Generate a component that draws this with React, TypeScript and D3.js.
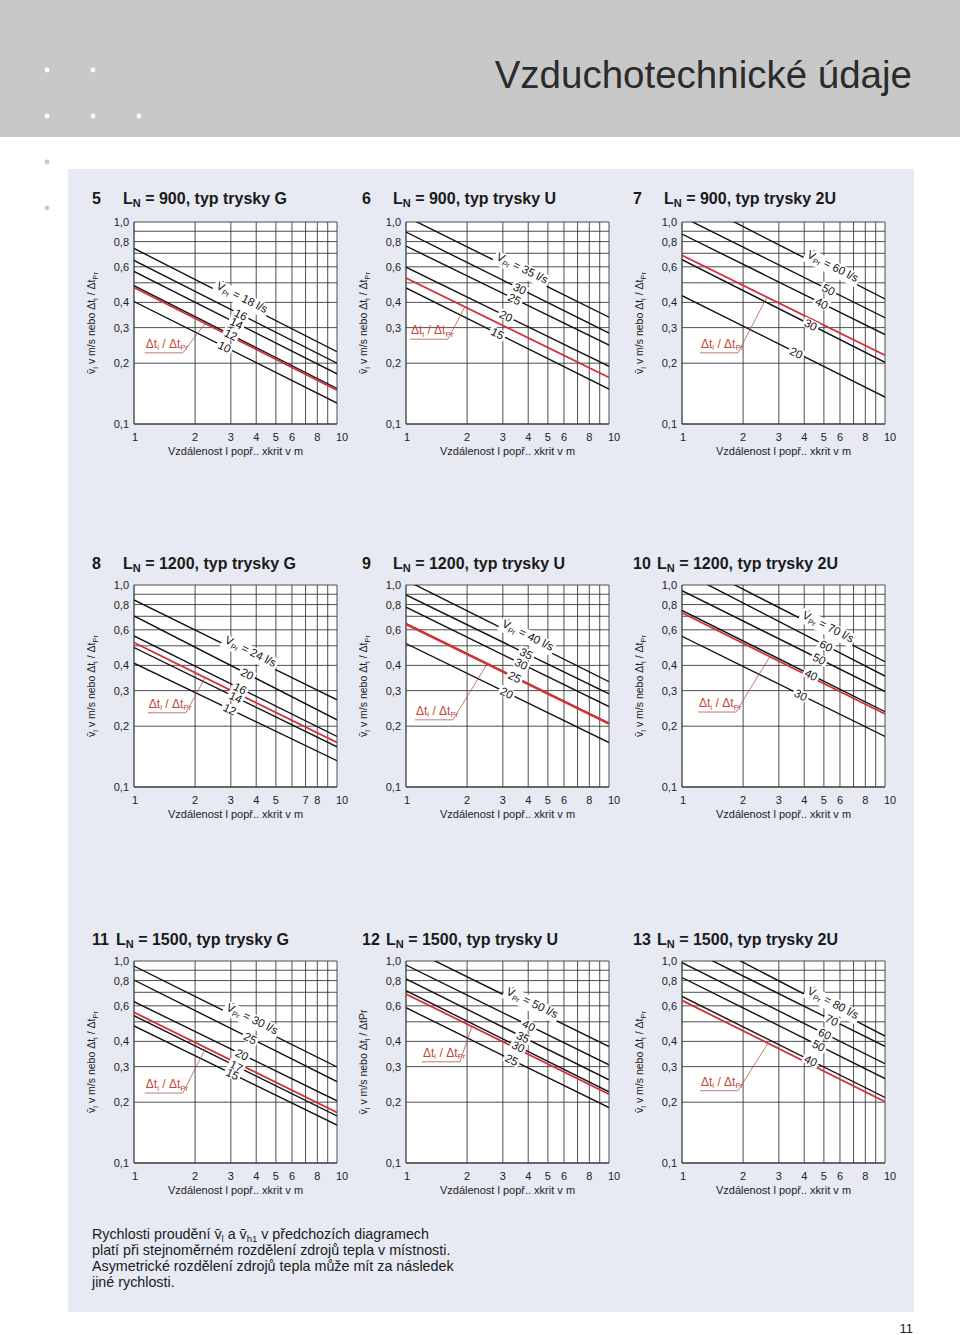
import React from "react";
import * as d3 from "d3";

// --- chart data -------------------------------------------------------------
const chartNumbers = ["5", "6", "7", "8", "9", "10", "11", "12", "13"];
const nozzleLength = [900, 900, 900, 1200, 1200, 1200, 1500, 1500, 1500];
const nozzleType = ["G", "U", "2U", "G", "U", "2U", "G", "U", "2U"];

// air flow V̇Pr in l/s, one black line each (top line first)
const flowRates = [
  [18, 16, 14, 12, 10],
  [35, 30, 25, 20, 15],
  [60, 50, 40, 30, 20],
  [24, 20, 16, 14, 12],
  [40, 35, 30, 25, 20],
  [70, 60, 50, 40, 30],
  [30, 25, 20, 17, 15],
  [50, 40, 35, 30, 25],
  [80, 70, 60, 50, 40],
];
// velocity v̄l in m/s read at 1 m (lines above 1,0 extended) and at 10 m
const velocityAt1 = [
  [0.74, 0.645, 0.569, 0.484, 0.404],
  [1.064, 0.892, 0.76, 0.598, 0.472],
  [1.355, 1.062, 0.872, 0.651, 0.432],
  [0.843, 0.703, 0.56, 0.49, 0.41],
  [1.055, 0.893, 0.776, 0.643, 0.513],
  [1.361, 1.167, 0.938, 0.748, 0.557],
  [0.944, 0.805, 0.629, 0.536, 0.477],
  [1.177, 0.955, 0.815, 0.713, 0.587],
  [1.415, 1.19, 0.981, 0.828, 0.668],
];
const velocityAt10 = [
  [0.228, 0.2, 0.177, 0.15, 0.127],
  [0.338, 0.282, 0.246, 0.193, 0.149],
  [0.416, 0.336, 0.277, 0.202, 0.136],
  [0.27, 0.215, 0.178, 0.158, 0.135],
  [0.332, 0.289, 0.25, 0.207, 0.166],
  [0.417, 0.354, 0.297, 0.236, 0.178],
  [0.299, 0.253, 0.203, 0.171, 0.154],
  [0.377, 0.306, 0.258, 0.225, 0.188],
  [0.425, 0.378, 0.31, 0.262, 0.211],
];
// Δtl / ΔtPr (red line) at 1 m and 10 m
const tempRatioAt1 = [0.474, 0.528, 0.684, 0.519, 0.64, 0.728, 0.557, 0.687, 0.638];
const tempRatioAt10 = [0.147, 0.17, 0.219, 0.166, 0.206, 0.23, 0.178, 0.219, 0.201];

const xTickLabels = [
  [1, 2, 3, 4, 5, 6, 8, 10],
  [1, 2, 3, 4, 5, 6, 8, 10],
  [1, 2, 3, 4, 5, 6, 8, 10],
  [1, 2, 3, 4, 5, 7, 8, 10],
  [1, 2, 3, 4, 5, 6, 8, 10],
  [1, 2, 3, 4, 5, 6, 8, 10],
  [1, 2, 3, 4, 5, 6, 8, 10],
  [1, 2, 3, 4, 5, 6, 8, 10],
  [1, 2, 3, 4, 5, 6, 8, 10],
];
const yTickLabels = [1.0, 0.8, 0.6, 0.4, 0.3, 0.2, 0.1];
const gridX = [1, 2, 3, 4, 5, 6, 7, 8, 9, 10];
const gridY = [0.1, 0.2, 0.3, 0.4, 0.5, 0.6, 0.7, 0.8, 0.9, 1.0];

// distance (m) where the column of flow labels meets the top line
const labelDistance = [3.55, 3.9, 5.77, 3.92, 4.16, 5.47, 3.99, 4.37, 5.78];
// Δt note: start of underline (m, value) and where the leader hits the red line (m)
const dtNoteX = [1.13, 1.046, 1.226, 1.17, 1.107, 1.199, 1.13, 1.199, 1.226];
const dtNoteY = [0.225, 0.263, 0.225, 0.233, 0.215, 0.235, 0.222, 0.317, 0.228];
const dtNoteEnd = [2.24, 1.95, 2.62, 2.24, 2.51, 2.71, 2.26, 2.11, 2.65];

const footerLines = [
  ["Rychlosti proudění v\u0304", "l", " a v\u0304", "h1", " v předchozích diagramech"],
  ["platí při stejnoměrném rozdělení zdrojů tepla v místnosti."],
  ["Asymetrické rozdělení zdrojů tepla může mít za následek"],
  ["jiné rychlosti."],
];

// --- layout -------------------------------------------------------------------
const FONT = "'Liberation Sans', Arial, Helvetica, sans-serif";
const PW = 203;
const PH = 202;
const colLeft = [134, 406, 682];
const rowTop = [222, 585, 961];
const titleY = [204, 569, 945];
const titleX = [92, 362, 633];
const RED = "#d3303a";

function Chart({ i }: { i: number }) {
  const left = colLeft[i % 3];
  const top = rowTop[Math.floor(i / 3)];
  const x = d3.scaleLog().domain([1, 10]).range([0, PW]);
  const y = d3.scaleLog().domain([0.1, 1]).range([PH, 0]);
  const line = d3.line<[number, number]>().x((d) => x(d[0])).y((d) => y(d[1]));

  const flows = flowRates[i];
  const seg = flows.map((_, k) => ({
    x1: x(1), y1: y(velocityAt1[i][k]), x2: x(10), y2: y(velocityAt10[i][k]),
  }));

  // labels sit on a line perpendicular to the curves
  const s0 = (seg[0].y2 - seg[0].y1) / (seg[0].x2 - seg[0].x1);
  const ax = x(labelDistance[i]);
  const ay = seg[0].y1 + s0 * (ax - seg[0].x1);
  const nl = Math.hypot(s0, 1);
  const nx = -s0 / nl, ny = 1 / nl;
  const labels = seg.map((sg) => {
    const s = (sg.y2 - sg.y1) / (sg.x2 - sg.x1);
    const a = sg.y1 - s * sg.x1;
    const t = (a + s * ax - ay) / (ny - s * nx);
    return { px: ax + t * nx, py: ay + t * ny, ang: (Math.atan(s) * 180) / Math.PI };
  });

  const r1 = y(tempRatioAt1[i]), r10 = y(tempRatioAt10[i]);
  const ux = x(dtNoteX[i]), uy = y(dtNoteY[i]);
  const ex = x(dtNoteEnd[i]);
  const ey = r1 + ((r10 - r1) * ex) / PW;
  const clipId = `clip-${i}`;
  const n = chartNumbers[i];

  return (
    <g>
      <text x={titleX[i % 3]} y={titleY[Math.floor(i / 3)]} fontSize={16} fontWeight="bold" fill="#1a1a1a">
        {n}
      </text>
      <text x={titleX[i % 3] + (n.length > 1 ? 24 : 31)} y={titleY[Math.floor(i / 3)]} fontSize={16} fontWeight="bold" fill="#1a1a1a">
        L<tspan dy={3} fontSize={11}>N</tspan>
        <tspan dy={-3}>{` = ${nozzleLength[i]}, typ trysky ${nozzleType[i]}`}</tspan>
      </text>
      <g transform={`translate(${left},${top})`}>
        <defs>
          <clipPath id={clipId}>
            <rect x={0} y={0} width={PW} height={PH} />
          </clipPath>
        </defs>
        <rect x={0} y={0} width={PW} height={PH} fill="#fff" />
        {gridX.map((g) => (
          <line key={"gx" + g} x1={x(g)} x2={x(g)} y1={0} y2={PH} stroke="#3a3a3a" strokeWidth={g === 1 ? 1.3 : 0.9} />
        ))}
        {gridY.map((g) => (
          <line key={"gy" + g} x1={0} x2={PW} y1={y(g)} y2={y(g)} stroke="#3a3a3a" strokeWidth={g === 0.1 ? 1.3 : 0.9} />
        ))}
        <g clipPath={`url(#${clipId})`}>
          {flows.map((f, k) => (
            <path key={"c" + f} d={line([[1, velocityAt1[i][k]], [10, velocityAt10[i][k]]]) || ""} stroke="#111" strokeWidth={1.4} fill="none" />
          ))}
          <path d={line([[1, tempRatioAt1[i]], [10, tempRatioAt10[i]]]) || ""} stroke={RED} strokeWidth={i === 4 ? 2.4 : 1.8} fill="none" />
        </g>
        {labels.map((lb, k) => {
          if (k === 0) {
            return (
              <g key="big" transform={`translate(${lb.px},${lb.py}) rotate(${lb.ang})`} fontSize={11.5} fill="#111">
                <rect x={-37} y={-11} width={60} height={14.5} fill="#fff" />
                <text x={-9.6} y={-1.5} textAnchor="end">
                  {"V\u0307"}
                  <tspan dy={2.5} fontSize={7.5}>Pr</tspan>
                  <tspan dy={-2.5}>{" ="}</tspan>
                </text>
                <text x={0} y={-1.5} textAnchor="middle">{flows[0]}</text>
                <text x={9.6} y={-1.5} textAnchor="start">l/s</text>
              </g>
            );
          }
          const w = String(flows[k]).length * 6.4;
          return (
            <g key={"l" + k} transform={`translate(${lb.px},${lb.py}) rotate(${lb.ang})`}>
              <rect x={-w / 2 - 2} y={-5} width={w + 4} height={10} fill="#fff" />
              <text textAnchor="middle" dy="0.36em" fontSize={11.5} fill="#111">{flows[k]}</text>
            </g>
          );
        })}
        <g stroke="#b5574c" strokeWidth={0.8} fill="none">
          <line x1={ux} x2={ux + 38} y1={uy} y2={uy} />
          <line x1={ux + 38} x2={ex} y1={uy} y2={ey} />
        </g>
        <text x={ux + 1} y={uy - 5} fontSize={12} fill="#c4473c">
          Δt<tspan dy={2.5} fontSize={8}>l</tspan>
          <tspan dy={-2.5}>{" / Δt"}</tspan>
          <tspan dy={2.5} fontSize={8}>Pr</tspan>
        </text>
        {yTickLabels.map((v) => (
          <text key={"yt" + v} x={-5} y={y(v) + 4} textAnchor="end" fontSize={11} fill="#222">
            {v.toFixed(1).replace(".", ",")}
          </text>
        ))}
        {xTickLabels[i].map((v) => (
          <text key={"xt" + v} x={v === 10 ? x(v) - 1 : x(v) + (v === 1 ? 1 : 0)} y={PH + 16.5} textAnchor={v === 10 ? "start" : "middle"} fontSize={11} fill="#222">
            {v}
          </text>
        ))}
        <text x={PW / 2} y={PH + 31} textAnchor="middle" fontSize={11} fill="#222">
          Vzdálenost l popř.. xkrit v m
        </text>
        <text transform={`translate(${-39},${PH / 2}) rotate(-90)`} textAnchor="middle" fontSize={10.5} fill="#222">
          {"v\u0304"}
          <tspan dy={2.5} fontSize={7.5}>l</tspan>
          <tspan dy={-2.5}>{" v m/s nebo Δt"}</tspan>
          <tspan dy={2.5} fontSize={7.5}>l</tspan>
          {i === 7 ? (
            <tspan dy={-2.5}>{" / ΔtPr"}</tspan>
          ) : (
            <>
              <tspan dy={-2.5}>{" / Δt"}</tspan>
              <tspan dy={2.5} fontSize={7.5}>Pr</tspan>
            </>
          )}
        </text>
      </g>
    </g>
  );
}

export default function App() {
  return (
    <div style={{ position: "absolute", left: 0, top: 0 }}>
      <svg width={960} height={1335} style={{ display: "block", fontFamily: FONT }}>
        <rect x={0} y={0} width={960} height={1335} fill="#fff" />
        <rect x={0} y={0} width={960} height={137} fill="#c8c8c8" />
        {[[47, 70], [93, 70], [47, 116], [93, 116], [139, 116]].map(([cx, cy]) => (
          <circle key={`${cx}-${cy}`} cx={cx} cy={cy} r={2.4} fill="#fff" />
        ))}
        {[[47, 162], [47, 208]].map(([cx, cy]) => (
          <circle key={`${cx}-${cy}`} cx={cx} cy={cy} r={2.4} fill="#c8c8c8" />
        ))}
        <text x={912} y={88} textAnchor="end" fontSize={38.5} fill="#2b2b2b">
          Vzduchotechnické údaje
        </text>
        <rect x={68} y={169} width={846} height={1143} fill="#e7eaf3" />
        {chartNumbers.map((_, i) => (
          <Chart key={i} i={i} />
        ))}
        <text x={92} fontSize={14.3} fill="#1a1a1a">
          {footerLines.map((parts, li) => (
            <tspan key={li} x={92} y={1239 + li * 16}>
              {parts.length > 1 ? (
                <>
                  {parts[0]}
                  <tspan dy={3} fontSize={9.5}>{parts[1]}</tspan>
                  <tspan dy={-3}>{parts[2]}</tspan>
                  <tspan dy={3} fontSize={9.5}>{parts[3]}</tspan>
                  <tspan dy={-3}>{parts[4]}</tspan>
                </>
              ) : (
                parts[0]
              )}
            </tspan>
          ))}
        </text>
        <text x={913} y={1333} textAnchor="end" fontSize={13} fill="#222">
          11
        </text>
      </svg>
    </div>
  );
}
